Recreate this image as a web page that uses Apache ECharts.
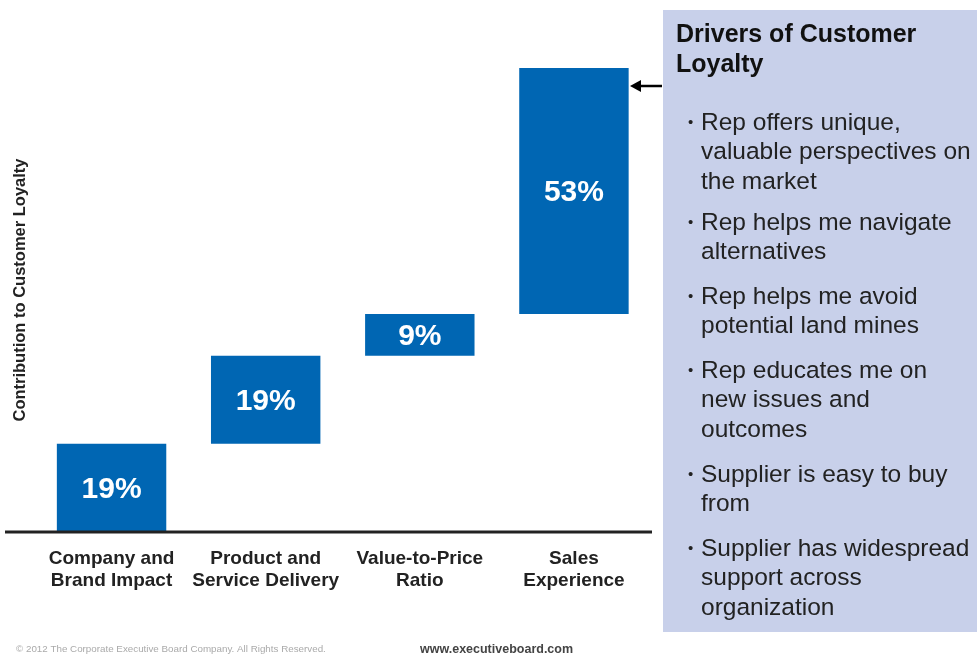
<!DOCTYPE html>
<html><head><meta charset="utf-8">
<script src="https://cdn.jsdelivr.net/npm/echarts@6/dist/echarts.min.js"></script>
<style>html,body{margin:0;padding:0;background:#fff}#c{width:977px;height:655px}</style>
</head><body><div id="c"></div>
<script>
const categories = ['Company and\nBrand Impact', 'Product and\nService Delivery', 'Value-to-Price\nRatio', 'Sales\nExperience'];
const values = [19, 19, 9, 53];
const yAxisName = 'Contribution to Customer Loyalty';
const panelTitle = ['Drivers of Customer', 'Loyalty'];
const bullets = [
  ['Rep offers unique,', 'valuable perspectives on', 'the market'],
  ['Rep helps me navigate', 'alternatives'],
  ['Rep helps me avoid', 'potential land mines'],
  ['Rep educates me on', 'new issues and', 'outcomes'],
  ['Supplier is easy to buy', 'from'],
  ['Supplier has widespread', 'support across', 'organization']
];

const base = [];
let acc = 0;
values.forEach(v => { base.push(acc); acc += v; });

const chart = echarts.init(document.getElementById('c'));
const font = 'Liberation Sans, Arial, sans-serif';

const graphics = [];
graphics.push({type:'rect', shape:{x:663,y:10,width:320,height:622}, style:{fill:'#c8d0ea'}, z:0});
graphics.push({type:'line', shape:{x1:5,y1:532,x2:652,y2:532}, style:{stroke:'#222',lineWidth:3}, z:10});
graphics.push({type:'line', shape:{x1:662,y1:86,x2:638,y2:86}, style:{stroke:'#000',lineWidth:2.5}, z:10});
graphics.push({type:'polygon', shape:{points:[[630,86],[641,80],[641,92]]}, style:{fill:'#000'}, z:10});
graphics.push({type:'text', x:20, y:290, rotation:Math.PI/2, style:{text:yAxisName, font:'bold 16.5px '+font, fill:'#222', textAlign:'center', textVerticalAlign:'middle'}, z:10});
panelTitle.forEach((t,i)=>{
  graphics.push({type:'text', x:676, y:35+i*30, style:{text:t, font:'bold 25px '+font, fill:'#111', textVerticalAlign:'middle'}, z:10});
});
const starts = [122, 222, 296, 370, 474, 548];
bullets.forEach((lines, bi)=>{
  graphics.push({type:'text', x:688, y:starts[bi]+1, style:{text:'•', font:'15px '+font, fill:'#222', textVerticalAlign:'middle'}, z:10});
  lines.forEach((l,li)=>{
    graphics.push({type:'text', x:701, y:starts[bi]+1+li*29.5, style:{text:l, font:'24.5px '+font, fill:'#222', textVerticalAlign:'middle'}, z:10});
  });
});
graphics.push({type:'text', x:16, y:649, style:{text:'© 2012 The Corporate Executive Board Company. All Rights Reserved.', font:'9.8px '+font, fill:'#aaa', textVerticalAlign:'middle'}, z:10});
graphics.push({type:'text', x:420, y:650, style:{text:'www.executiveboard.com', font:'bold 12.5px '+font, fill:'#444', textVerticalAlign:'middle'}, z:10});

chart.setOption({
  animation:false,
  backgroundColor:'#fff',
  grid:{left:34.5, right:977-651, top:68, bottom:655-532},
  xAxis:{type:'category', data:categories,
    axisLine:{show:false}, axisTick:{show:false},
    axisLabel:{interval:0, color:'#222', fontFamily:font, fontWeight:'bold', fontSize:19, lineHeight:22, margin:16}},
  yAxis:{type:'value', min:0, max:100, show:false},
  series:[
    {type:'bar', stack:'w', data:base, barWidth:'71%', itemStyle:{color:'transparent'}, silent:true},
    {type:'bar', stack:'w', data:values, barWidth:'71%', itemStyle:{color:'#0066b3'},
      label:{show:true, position:'inside', offset:[0,2], formatter:'{c}%', color:'#fff', fontFamily:font, fontWeight:'bold', fontSize:30}}
  ],
  graphic:graphics
});
</script></body></html>
